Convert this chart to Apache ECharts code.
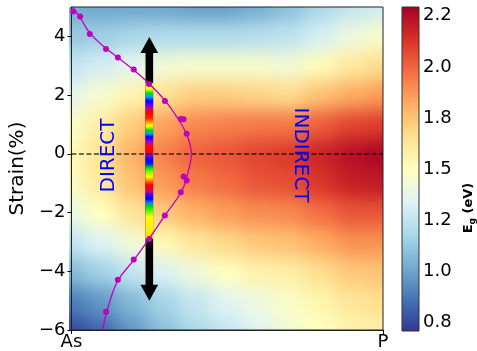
<!DOCTYPE html>
<html><head><meta charset="utf-8">
<script src="https://cdn.jsdelivr.net/npm/echarts@6/dist/echarts.min.js"></script>
<style>
html,body{margin:0;padding:0;background:#fff;width:477px;height:351px;overflow:hidden;}
#clip{position:absolute;left:69px;top:7px;width:314px;height:324px;overflow:hidden;}
#bg{position:absolute;left:-129px;top:-67px;width:597px;height:471px;filter:blur(9px);}
#fg{position:absolute;left:0;top:0;width:477px;height:351px;}
</style></head><body>
<div id="clip"><div id="bg"></div></div>
<div id="fg"></div>
<script>
// ---------- data ----------
const compositionX = [0, 0.1, 0.2, 0.3, 0.4, 0.5, 0.6, 0.7, 0.8, 0.9, 1.0];
const strainRows = [5, 4, 3, 2, 1, 0, -1, -2, -3, -4, -5, -6];
const eg_s5  = [1.06,1.04,1.04,1.04,1.02,1.02,1.06,1.12,1.20,1.27,1.31];
const eg_s4  = [1.15,1.17,1.20,1.22,1.22,1.22,1.24,1.26,1.33,1.42,1.48];
const eg_s3  = [1.27,1.32,1.38,1.44,1.46,1.46,1.46,1.44,1.52,1.60,1.66];
const eg_s2  = [1.38,1.46,1.55,1.64,1.70,1.70,1.68,1.66,1.74,1.80,1.84];
const eg_s1  = [1.47,1.58,1.70,1.82,1.88,1.90,1.92,1.92,1.98,2.04,2.06];
const eg_s0  = [1.52,1.63,1.78,1.90,1.97,2.00,2.04,2.07,2.13,2.19,2.22];
const eg_sm1 = [1.48,1.60,1.73,1.84,1.91,1.95,2.00,2.02,2.08,2.14,2.16];
const eg_sm2 = [1.40,1.50,1.62,1.71,1.78,1.83,1.87,1.88,1.94,2.00,2.00];
const eg_sm3 = [1.26,1.35,1.44,1.53,1.61,1.67,1.72,1.74,1.80,1.86,1.86];
const eg_sm4 = [1.10,1.18,1.27,1.34,1.43,1.50,1.56,1.58,1.65,1.72,1.73];
const eg_sm5 = [0.93,1.00,1.10,1.19,1.28,1.36,1.42,1.48,1.55,1.62,1.65];
const eg_sm6 = [0.80,0.88,1.00,1.12,1.21,1.28,1.36,1.44,1.50,1.56,1.58];
const egRows = [eg_s5, eg_s4, eg_s3, eg_s2, eg_s1, eg_s0, eg_sm1, eg_sm2, eg_sm3, eg_sm4, eg_sm5, eg_sm6];

// direct/indirect boundary: computed points (dots) and fitted curve
const dotX = [0.006,0.028,0.059,0.111,0.149,0.200,0.249,0.300,0.351,0.360,0.370,0.360,0.370,0.351,0.300,0.250,0.200,0.149,0.111];
const dotS = [4.85,4.68,4.08,3.57,3.28,2.87,2.38,1.80,1.19,1.18,0.68,-0.77,-0.91,-1.31,-2.10,-2.90,-3.60,-4.29,-5.38];
const curveX = [0.003,0.03,0.06,0.11,0.15,0.20,0.25,0.30,0.345,0.372,0.385,0.375,0.355,0.30,0.25,0.20,0.15,0.124,0.099];
const curveS = [5.0,4.6,4.1,3.6,3.27,2.85,2.38,1.82,1.15,0.6,0.0,-0.6,-1.25,-2.1,-2.88,-3.62,-4.3,-5.0,-6.0];

// arrow and rainbow stripe
const arrowX = 0.25, arrowBottom = -5.0, arrowTop = 3.98;
const rainbowTop = 2.41, rainbowBottom = -2.89;
const rainbowStopS = [2.41,2.21,2.07,1.94,1.80,1.66,1.56,1.43,1.22,1.09,0.95,0.81,0.68,0.58,0.44,0.34,0.24,0.07,-0.07,-0.17,-0.34,-0.48,-0.61,-0.78,-0.92,-1.05,-1.15,-1.29,-1.39,-1.53,-1.66,-1.80,-1.97,-2.14,-2.89];
const rainbowStopColor = ['#ffff00','#ffff00','#00e000','#00a0ff','#0000ff','#6000ff','#c000a0','#ff0000','#ff2000','#ff9000','#ffff00','#00e000','#00a0ff','#0000ff','#8000ff','#e00060','#ff0000','#ff0000','#8000ff','#0000ff','#0020ff','#00e000','#80ff00','#ffff00','#ff8000','#ff0000','#ff0000','#c000a0','#4000ff','#0000ff','#0080ff','#00e000','#60ff00','#ffff00','#ffe000'];

// axes / colorbar ticks
const yTickValues = [-6, -4, -2, 0, 2, 4];
const xTickValues = [0, 1];
const xTickLabels = ['As', 'P'];
const egMin = 0.76, egMax = 2.24;
const cbTickValues = [0.8, 1.0333, 1.2667, 1.5, 1.7333, 1.9667, 2.2];
const cbTickLabels = ['0.8', '1.0', '1.2', '1.5', '1.8', '2.0', '2.2'];
const cmap = ['#313695','#4575b4','#74add1','#abd9e9','#e0f3f8','#ffffbf','#fee090','#fdae61','#f46d43','#d73027','#a50026'];

const FONT = 'DejaVu Sans';
const GRID = {left: 69, top: 7, width: 314, height: 324};

// ---------- background heat field (blurred) ----------
const cells = [];
strainRows.forEach((s, r) => compositionX.forEach((x, c) => cells.push([x, s, egRows[r][c]])));
const bg = echarts.init(document.getElementById('bg'));
bg.setOption({
  animation: false,
  grid: {left: GRID.left + 60, top: GRID.top + 60, width: GRID.width, height: GRID.height},
  xAxis: {type: 'value', min: 0, max: 1, show: false},
  yAxis: {type: 'value', min: -6, max: 5, show: false},
  visualMap: {type: 'continuous', min: egMin, max: egMax, dimension: 2, seriesIndex: 0, show: false, inRange: {color: cmap}},
  series: [{
    type: 'custom', clip: false, data: cells,
    renderItem: function (params, api) {
      const x = api.value(0), s = api.value(1);
      const xl = x <= 0 ? -0.15 : x - 0.05, xr = x >= 1 ? 1.15 : x + 0.05;
      const st = s >= 5 ? 6.5 : s + 0.5, sb = s <= -6 ? -7.5 : s - 0.5;
      const p0 = api.coord([xl, st]), p1 = api.coord([xr, sb]);
      return {type: 'rect', shape: {x: p0[0], y: p0[1], width: p1[0] - p0[0] + 0.6, height: p1[1] - p0[1] + 0.6},
              style: {fill: api.visual('color')}};
    }
  }]
});

// ---------- foreground ----------
const fg = echarts.init(document.getElementById('fg'));
const txt = {color: '#000', fontFamily: FONT, fontSize: 18};
fg.setOption({
  animation: false,
  backgroundColor: 'transparent',
  grid: [
    {left: GRID.left, top: GRID.top, width: GRID.width, height: GRID.height, show: true, borderColor: '#222', borderWidth: 1, backgroundColor: 'transparent'},
    {left: 402, top: 7, width: 17, height: 324, show: false}
  ],
  xAxis: [
    {gridIndex: 0, type: 'value', min: 0, max: 1,
     axisLine: {show: true, onZero: false, lineStyle: {color: '#222', width: 1}},
     axisTick: {show: true, length: 4, customValues: xTickValues, lineStyle: {color: '#000'}},
     axisLabel: Object.assign({customValues: xTickValues, margin: 3, formatter: v => xTickLabels[xTickValues.indexOf(v)]}, txt),
     splitLine: {show: false}},
    {gridIndex: 1, type: 'value', min: 0, max: 1, show: false}
  ],
  yAxis: [
    {gridIndex: 0, type: 'value', min: -6, max: 5, name: 'Strain(%)', nameLocation: 'middle', nameGap: 42,
     nameTextStyle: {color: '#000', fontFamily: FONT, fontSize: 20},
     axisLine: {show: true, onZero: false, lineStyle: {color: '#222', width: 1}},
     axisTick: {show: true, length: 4, customValues: yTickValues, lineStyle: {color: '#000'}},
     axisLabel: Object.assign({customValues: yTickValues, margin: 6, formatter: v => (v < 0 ? '\u2212' : '') + Math.abs(v)}, txt),
     splitLine: {show: false}},
    {gridIndex: 1, type: 'value', min: egMin, max: egMax, position: 'right',
     axisLine: {show: false},
     axisTick: {show: true, length: 4, customValues: cbTickValues, lineStyle: {color: '#000'}},
     axisLabel: Object.assign({customValues: cbTickValues, margin: 4,
        formatter: v => { let best = 0; cbTickValues.forEach((t, i) => { if (Math.abs(t - v) < Math.abs(cbTickValues[best] - v)) best = i; }); return cbTickLabels[best]; }}, txt),
     splitLine: {show: false}}
  ],
  series: [
    { // dashed zero-strain line
      type: 'line', xAxisIndex: 0, yAxisIndex: 0, data: [], z: 2,
      markLine: {silent: true, symbol: ['none', 'none'], label: {show: false},
                 lineStyle: {type: [5, 2.5], color: 'rgba(0,0,0,0.75)', width: 1.5}, data: [{yAxis: 0}]}
    },
    { // black double arrow
      type: 'custom', xAxisIndex: 0, yAxisIndex: 0, z: 3, clip: false,
      data: [[arrowX, arrowBottom, arrowTop]],
      renderItem: function (params, api) {
        const b = api.coord([api.value(0), api.value(1)]), t = api.coord([api.value(0), api.value(2)]);
        const cx = b[0], hl = 16, hw = 8.8, sw = 3.8;
        const pts = [[cx, t[1]], [cx + hw, t[1] + hl], [cx + sw, t[1] + hl], [cx + sw, b[1] - hl], [cx + hw, b[1] - hl], [cx, b[1]],
                     [cx - hw, b[1] - hl], [cx - sw, b[1] - hl], [cx - sw, t[1] + hl], [cx - hw, t[1] + hl]];
        return {type: 'polygon', shape: {points: pts}, style: {fill: '#000'}};
      }
    },
    { // rainbow stripe
      type: 'custom', xAxisIndex: 0, yAxisIndex: 0, z: 4, clip: false,
      data: [[arrowX, rainbowTop, rainbowBottom]],
      renderItem: function (params, api) {
        const top = api.value(1), bot = api.value(2);
        const t = api.coord([api.value(0), top]), b = api.coord([api.value(0), bot]);
        const stops = rainbowStopS.map((s, i) => ({offset: Math.min(1, Math.max(0, (top - s) / (top - bot))), color: rainbowStopColor[i]}));
        return {type: 'rect', shape: {x: t[0] - 3.8, y: t[1], width: 7.6, height: b[1] - t[1]},
                style: {fill: new echarts.graphic.LinearGradient(0, 0, 0, 1, stops)}};
      }
    },
    { // fitted boundary curve
      type: 'line', xAxisIndex: 0, yAxisIndex: 0, z: 5, smooth: 0.4, symbol: 'none',
      data: curveX.map((x, i) => [x, curveS[i]]),
      lineStyle: {color: '#bf00bf', width: 1.3}
    },
    { // computed boundary points
      type: 'scatter', xAxisIndex: 0, yAxisIndex: 0, z: 6, symbolSize: 6,
      data: dotX.map((x, i) => [x, dotS[i]]),
      itemStyle: {color: '#bf00bf', opacity: 1}
    },
    { // colorbar
      type: 'custom', xAxisIndex: 1, yAxisIndex: 1, z: 2, clip: false,
      data: [[0, egMin, egMax]],
      renderItem: function (params, api) {
        const t = api.coord([0, api.value(2)]), b = api.coord([1, api.value(1)]);
        const stops = cmap.map((c, i) => ({offset: 1 - i / (cmap.length - 1), color: c}));
        return {type: 'rect', shape: {x: t[0], y: t[1], width: b[0] - t[0], height: b[1] - t[1]},
                style: {fill: new echarts.graphic.LinearGradient(0, 0, 0, 1, stops.reverse()), stroke: '#333', lineWidth: 1}};
      }
    }
  ],
  graphic: [
    {type: 'text', x: 108.5, y: 155.5, rotation: Math.PI / 2, z: 10,
     style: {text: 'DIRECT', fill: '#0000ff', fontSize: 20, fontFamily: FONT, align: 'center', verticalAlign: 'middle'}},
    {type: 'text', x: 300, y: 155, rotation: -Math.PI / 2, z: 10,
     style: {text: 'INDIRECT', fill: '#0000ff', fontSize: 20, fontFamily: FONT, align: 'center', verticalAlign: 'middle'}},
    {type: 'text', x: 469, y: 208, rotation: Math.PI / 2, z: 10,
     style: {text: '{b|E}{s|g}{b| (eV)}', align: 'center', verticalAlign: 'middle',
             rich: {b: {fontSize: 13, fontWeight: 'bold', fontFamily: FONT, fill: '#000', lineHeight: 16, verticalAlign: 'middle'},
                    s: {fontSize: 9, fontWeight: 'bold', fontFamily: FONT, fill: '#000', lineHeight: 16, verticalAlign: 'bottom'}}}}
  ]
});
</script></body></html>
